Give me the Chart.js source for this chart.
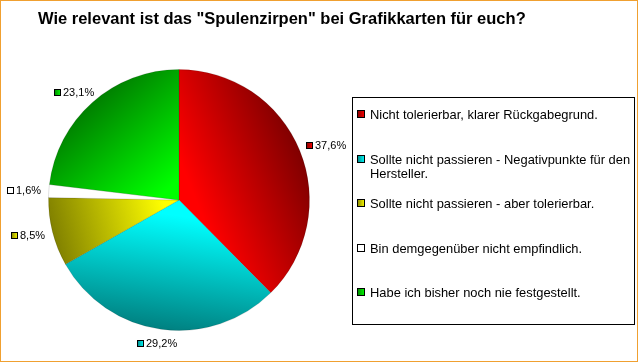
<!DOCTYPE html>
<html>
<head>
<meta charset="utf-8">
<script src="https://cdn.jsdelivr.net/npm/chart.js@4/dist/chart.umd.min.js"></script>
<style>
  html, body { margin: 0; padding: 0; background: #fff; }
  #wrap { width: 640px; height: 364px; position: relative; }
</style>
</head>
<body>
<div id="wrap"><canvas id="chart" width="640" height="364"></canvas></div>
<script>
  // Chart data
  const chartTitle = 'Wie relevant ist das "Spulenzirpen" bei Grafikkarten für euch?';
  const categories = [
    'Nicht tolerierbar, klarer Rückgabegrund.',
    'Sollte nicht passieren - Negativpunkte für den Hersteller.',
    'Sollte nicht passieren - aber tolerierbar.',
    'Bin demgegenüber nicht empfindlich.',
    'Habe ich bisher noch nie festgestellt.'
  ];
  const shares = [37.6, 29.2, 8.5, 1.6, 23.1];
  const brightColors = ['#ff0000', '#00ffff', '#ffff00', '#ffffff', '#00ff00'];
  const darkColors = ['#800000', '#008080', '#808000', '#ffffff', '#008000'];

  const FONT = '"Liberation Sans", Arial, sans-serif';
  const total = shares.reduce((a, b) => a + b, 0);

  // shading: bright at the centre, dark towards the rim along the slice middle
  function sliceGradient(context) {
    const chart = context.chart;
    const area = chart.chartArea;
    const i = context.dataIndex;
    if (!area) return brightColors[i];
    const cx = (area.left + area.right) / 2;
    const cy = (area.top + area.bottom) / 2;
    const r = Math.min(area.right - area.left, area.bottom - area.top) / 2;
    let before = 0;
    for (let k = 0; k < i; k++) before += shares[k];
    const mid = -Math.PI / 2 + (before + shares[i] / 2) / total * Math.PI * 2;
    const g = chart.ctx.createLinearGradient(cx, cy, cx + Math.cos(mid) * r, cy + Math.sin(mid) * r);
    g.addColorStop(0, brightColors[i]);
    g.addColorStop(0.12, brightColors[i]);
    g.addColorStop(1, darkColors[i]);
    return g;
  }

  function markerFill(ctx, x, y, size, i) {
    const g = ctx.createLinearGradient(x, y, x + size, y);
    g.addColorStop(0, darkColors[i]);
    g.addColorStop(1, brightColors[i]);
    ctx.fillStyle = g;
    ctx.fillRect(x, y, size, size);
    ctx.strokeStyle = '#000';
    ctx.lineWidth = 1;
    ctx.strokeRect(x + 0.5, y + 0.5, size - 1, size - 1);
  }

  const framePlugin = {
    id: 'frame',
    beforeDraw(chart) {
      const ctx = chart.ctx;
      ctx.save();
      ctx.fillStyle = '#fff';
      ctx.fillRect(0, 0, chart.width, chart.height);
      ctx.strokeStyle = '#f0a030';
      ctx.lineWidth = 1;
      ctx.strokeRect(0.5, 0.5, chart.width - 3, chart.height - 3);
      // title
      ctx.fillStyle = '#000';
      ctx.font = 'bold 16.5px ' + FONT;
      ctx.textAlign = 'left';
      ctx.textBaseline = 'middle';
      ctx.fillText(chartTitle, 38, 19);
      ctx.restore();
    }
  };

  const sliceLabels = {
    id: 'sliceLabels',
    afterDatasetsDraw(chart) {
      const ctx = chart.ctx;
      const meta = chart.getDatasetMeta(0);
      ctx.save();
      ctx.font = '11px ' + FONT;
      ctx.textBaseline = 'middle';
      ctx.textAlign = 'left';
      meta.data.forEach((arc, i) => {
        const p = arc.getProps(['x', 'y', 'startAngle', 'endAngle', 'outerRadius'], true);
        const mid = (p.startAngle + p.endAngle) / 2;
        const dx = Math.cos(mid), dy = Math.sin(mid);
        const ax = p.x + dx * (p.outerRadius + 8);
        const ay = p.y + dy * (p.outerRadius + 8);
        const text = (shares[i] / total * 100).toFixed(1).replace('.', ',') + '%';
        const tw = ctx.measureText(text).width;
        const w = 9 + tw, h = 12;
        const bx = ax + dx * w / 2 - w / 2;
        const by = ay + dy * h / 2;
        markerFill(ctx, Math.round(bx), Math.round(by) - 3, 7, i);
        ctx.fillStyle = '#000';
        ctx.fillText(text, Math.round(bx) + 9, Math.round(by) + 1);
      });
      ctx.restore();
    }
  };

  const boxLegend = {
    id: 'boxLegend',
    afterDraw(chart) {
      const ctx = chart.ctx;
      const left = 352, top = 97, right = 634, bottom = 324;
      ctx.save();
      ctx.strokeStyle = '#000';
      ctx.lineWidth = 1;
      ctx.strokeRect(left + 0.5, top + 0.5, right - left, bottom - top);
      ctx.font = '12.9px ' + FONT;
      ctx.textBaseline = 'middle';
      ctx.textAlign = 'left';
      const textX = 370;
      const maxW = right - textX;
      categories.forEach((label, i) => {
        const y = 114 + i * 44.5;
        markerFill(ctx, 357, Math.round(y) - 4, 8, i);
        // simple word wrap
        const words = label.split(' ');
        let line = '', lines = [];
        words.forEach(w => {
          const test = line ? line + ' ' + w : w;
          if (ctx.measureText(test).width > maxW && line) { lines.push(line); line = w; }
          else line = test;
        });
        lines.push(line);
        ctx.fillStyle = '#000';
        lines.forEach((l, j) => ctx.fillText(l, textX, Math.round(y) + 1 + j * 14));
      });
      ctx.restore();
    }
  };

  new Chart(document.getElementById('chart'), {
    type: 'pie',
    data: {
      labels: categories,
      datasets: [{
        data: shares,
        backgroundColor: sliceGradient,
        borderColor: 'rgba(0,0,0,0.12)',
        borderWidth: 1
      }]
    },
    options: {
      responsive: false,
      animation: false,
      layout: { padding: { left: 48, top: 69, right: 330, bottom: 33 } },
      plugins: {
        legend: { display: false },
        title: { display: false },
        tooltip: { enabled: false }
      }
    },
    plugins: [framePlugin, sliceLabels, boxLegend]
  });
</script>
</body>
</html>
